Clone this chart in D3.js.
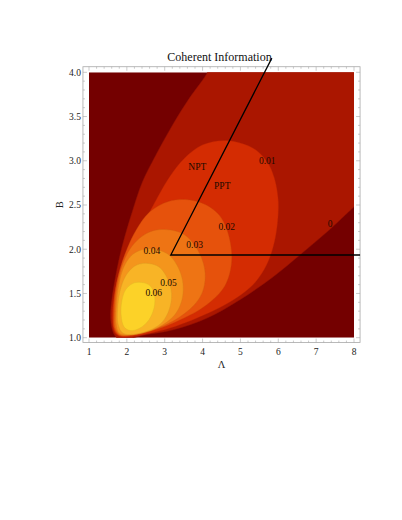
<!DOCTYPE html>
<html>
<head>
<meta charset="utf-8">
<script src="https://cdn.jsdelivr.net/npm/d3@7"></script>
<style>
  html, body { margin: 0; padding: 0; background: #fff; }
  svg { display: block; }
</style>
</head>
<body>
<div id="chart"></div>
<script>
// contour boundaries, as [Λ, B] pairs
const levels = ["0", "0.01", "0.02", "0.03", "0.04", "0.05", "0.06"];
const bandColors = ["#740000", "#aa1600", "#d42c02", "#e6520c", "#ee7414", "#f4951c", "#f8b426", "#fcd228"];

// level 0: open boundary, upper-left branch then lower branch
const zeroLine = [
  [4.18, 4.08], [4.13, 4.0], [3.64, 3.70], [3.20, 3.40], [2.76, 3.06], [2.41, 2.76],
  [2.14, 2.42], [1.93, 2.12], [1.79, 1.88], [1.68, 1.64], [1.60, 1.42], [1.57, 1.25],
  [1.60, 1.12], [1.66, 1.04], [1.76, 0.99], [1.95, 0.97], [2.35, 1.02], [3.23, 1.09],
  [4.11, 1.22], [4.99, 1.43], [5.87, 1.69], [6.57, 1.935], [7.3, 2.2], [8.0, 2.48], [8.2, 2.56]
];
const level01 = [
  [4.59, 3.23], [5.0, 3.2], [5.42, 3.12], [5.72, 2.98], [5.9, 2.8], [6.0, 2.55], [5.98, 2.3],
  [5.88, 2.05], [5.7, 1.83], [5.4, 1.63], [5.0, 1.48], [4.5, 1.35], [3.9, 1.23], [3.3, 1.13],
  [2.7, 1.06], [2.2, 1.02], [1.85, 1.01], [1.68, 1.06], [1.62, 1.2], [1.64, 1.4], [1.72, 1.6],
  [1.88, 1.82], [2.1, 2.02], [2.35, 2.22], [2.7, 2.5], [3.1, 2.8], [3.5, 3.02], [4.0, 3.18]
];
const level02 = [
  [3.62, 2.56], [4.1, 2.5], [4.45, 2.38], [4.66, 2.2], [4.77, 1.95], [4.73, 1.75], [4.58, 1.58],
  [4.3, 1.44], [3.9, 1.31], [3.4, 1.2], [2.9, 1.11], [2.4, 1.05], [2.0, 1.02], [1.78, 1.03],
  [1.67, 1.1], [1.65, 1.3], [1.7, 1.55], [1.82, 1.78], [2.0, 2.0], [2.25, 2.22], [2.6, 2.42], [3.1, 2.54]
];
const level03 = [
  [3.1, 2.22], [3.5, 2.17], [3.8, 2.04], [4.0, 1.87], [4.07, 1.7], [4.0, 1.52], [3.8, 1.38],
  [3.45, 1.25], [3.0, 1.14], [2.5, 1.07], [2.1, 1.03], [1.82, 1.03], [1.7, 1.1], [1.68, 1.3],
  [1.73, 1.55], [1.85, 1.78], [2.05, 1.98], [2.35, 2.13], [2.7, 2.21]
];
const level04 = [
  [2.75, 2.0], [3.1, 1.94], [3.35, 1.8], [3.48, 1.62], [3.45, 1.42], [3.25, 1.25], [2.85, 1.12],
  [2.4, 1.05], [2.0, 1.03], [1.8, 1.05], [1.72, 1.15], [1.72, 1.35], [1.78, 1.58], [1.92, 1.8],
  [2.15, 1.94], [2.45, 2.0]
];
const level05 = [
  [2.55, 1.84], [2.85, 1.8], [3.06, 1.68], [3.18, 1.5], [3.12, 1.32], [2.92, 1.17], [2.58, 1.08],
  [2.2, 1.04], [1.9, 1.05], [1.77, 1.15], [1.76, 1.35], [1.84, 1.56], [2.0, 1.72], [2.25, 1.82]
];
const level06 = [
  [2.45, 1.62], [2.63, 1.58], [2.73, 1.48], [2.72, 1.34], [2.58, 1.2], [2.35, 1.11], [2.1, 1.08],
  [1.93, 1.12], [1.85, 1.25], [1.87, 1.42], [1.98, 1.55], [2.2, 1.62]
];

// region boundary lines
const vertex = [3.16, 1.935];
const nptLineEnd = [5.83, 4.16];
const hLineEnd = [8.16, 1.935];

// labels placed on the plot
const contourLabels = [
  { t: "0", L: 7.37, B: 2.29 },
  { t: "0.01", L: 5.71, B: 3.0 },
  { t: "0.02", L: 4.64, B: 2.25 },
  { t: "0.03", L: 3.79, B: 2.05 },
  { t: "0.04", L: 2.66, B: 1.98 },
  { t: "0.05", L: 3.10, B: 1.62 },
  { t: "0.06", L: 2.71, B: 1.51 },
  { t: "NPT", L: 3.86, B: 2.93 },
  { t: "PPT", L: 4.52, B: 2.72 }
];

const lambdaTicks = [1, 2, 3, 4, 5, 6, 7, 8];
const bTicks = [1.0, 1.5, 2.0, 2.5, 3.0, 3.5, 4.0];

const W = 402, H = 520;
const x = d3.scaleLinear().domain([1, 8]).range([89, 354]);
const y = d3.scaleLinear().domain([1, 4]).range([337.7, 72.3]);
const frameL = [0.84, 8.16], frameB = [0.945, 4.063];

const svg = d3.select("#chart").append("svg")
  .attr("width", W).attr("height", H)
  .style("font-family", "'Liberation Serif', 'DejaVu Serif', serif");

svg.append("clipPath").attr("id", "plotClip")
  .append("rect")
  .attr("x", x(1)).attr("y", y(4))
  .attr("width", x(8) - x(1)).attr("height", y(1) - y(4));

const plot = svg.append("g").attr("clip-path", "url(#plotClip)");

plot.append("rect")
  .attr("x", x(1)).attr("y", y(4))
  .attr("width", x(8) - x(1)).attr("height", y(1) - y(4))
  .attr("fill", bandColors[0]);

const openLine = d3.line().x(d => x(d[0])).y(d => y(d[1])).curve(d3.curveCatmullRom.alpha(0.5));
const closedLine = d3.line().x(d => x(d[0])).y(d => y(d[1])).curve(d3.curveCatmullRomClosed.alpha(0.5));

// zero region: branch, then around the top right corner outside the clip
plot.append("path")
  .attr("d", openLine(zeroLine) + `L${x(8.6)},${y(2.56)}L${x(8.6)},${y(4.5)}L${x(4.18)},${y(4.5)}Z`)
  .attr("fill", bandColors[1])
  .attr("stroke", d3.color(bandColors[1]).darker(0.4))
  .attr("stroke-width", 0.5);

const loops = [level01, level02, level03, level04, level05, level06];
loops.forEach((pts, i) => {
  plot.append("path")
    .attr("d", closedLine(pts))
    .attr("fill", bandColors[i + 2])
    .attr("stroke", d3.color(bandColors[i + 2]).darker(0.4))
    .attr("stroke-width", 0.5)
    .attr("stroke-opacity", 0.7);
});

// frame
const fx0 = x(frameL[0]), fx1 = x(frameL[1]), fy0 = y(frameB[1]), fy1 = y(frameB[0]);
const frameColor = "#a8a8a8";
svg.append("rect")
  .attr("x", fx0).attr("y", fy0)
  .attr("width", fx1 - fx0).attr("height", fy1 - fy0)
  .attr("fill", "none").attr("stroke", frameColor).attr("stroke-width", 0.8);

const ticks = svg.append("g").attr("stroke", frameColor).attr("stroke-width", 0.6);
const minorX = d3.range(1, 8.001, 0.2);
const minorY = d3.range(1, 4.001, 0.1);
minorX.forEach(v => {
  const major = Math.abs(v - Math.round(v)) < 1e-6;
  const len = major ? 4 : 2;
  ticks.append("line").attr("x1", x(v)).attr("x2", x(v)).attr("y1", fy1).attr("y2", fy1 - len);
  ticks.append("line").attr("x1", x(v)).attr("x2", x(v)).attr("y1", fy0).attr("y2", fy0 + len);
});
minorY.forEach(v => {
  const major = Math.abs(v * 2 - Math.round(v * 2)) < 1e-6;
  const len = major ? 4 : 2;
  ticks.append("line").attr("x1", fx0).attr("x2", fx0 + len).attr("y1", y(v)).attr("y2", y(v));
  ticks.append("line").attr("x1", fx1).attr("x2", fx1 - len).attr("y1", y(v)).attr("y2", y(v));
});

svg.append("g").selectAll("text").data(lambdaTicks).join("text")
  .attr("x", d => x(d)).attr("y", fy1 + 12)
  .attr("text-anchor", "middle").attr("font-size", 9.5).attr("fill", "#222")
  .text(d => d);

svg.append("g").selectAll("text").data(bTicks).join("text")
  .attr("x", fx0 - 2).attr("y", d => y(d) + 3.3)
  .attr("text-anchor", "end").attr("font-size", 9.5).attr("fill", "#222")
  .text(d => d3.format(".1f")(d));

svg.append("text")
  .attr("x", (fx0 + fx1) / 2).attr("y", fy1 + 25)
  .attr("text-anchor", "middle").attr("font-size", 10.5).attr("fill", "#222")
  .text("Λ");

svg.append("text")
  .attr("transform", `translate(${fx0 - 20},${(fy0 + fy1) / 2}) rotate(-90)`)
  .attr("text-anchor", "middle").attr("font-size", 10.5).attr("fill", "#222")
  .text("B");

svg.append("text")
  .attr("x", (fx0 + fx1) / 2 - 2).attr("y", fy0 - 6)
  .attr("text-anchor", "middle").attr("font-size", 12).attr("fill", "#111")
  .text("Coherent Information");

// NPT / PPT boundaries
const lines = svg.append("g").attr("stroke", "#000").attr("stroke-width", 1.3).attr("fill", "none");
lines.append("path").attr("d", d3.line().x(d => x(d[0])).y(d => y(d[1]))([nptLineEnd, vertex, hLineEnd]));

svg.append("g").selectAll("text").data(contourLabels).join("text")
  .attr("x", d => x(d.L)).attr("y", d => y(d.B) + 3.3)
  .attr("text-anchor", "middle").attr("font-size", 9.5).attr("fill", "#1a0a00")
  .text(d => d.t);
</script>
</body>
</html>
